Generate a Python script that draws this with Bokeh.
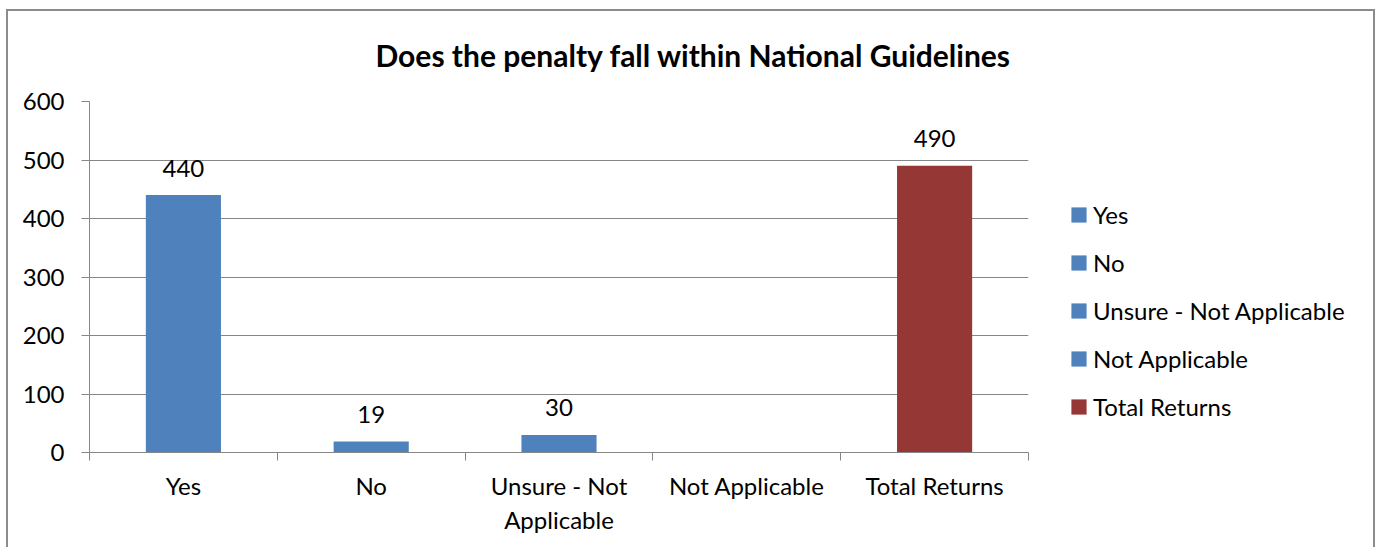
from bokeh.plotting import figure
from bokeh.models import (ColumnDataSource, Range1d, FixedTicker, Legend, LegendItem,
                          InlineStyleSheet)
from bokeh.core.properties import value
from bokeh.embed import file_html
from bokeh.resources import INLINE

title_text = "Does the penalty fall within National Guidelines"
categories = ["Yes", "No", "Unsure - Not Applicable", "Not Applicable", "Total Returns"]
axis_labels = ["Yes", "No", "Unsure - Not\nApplicable", "Not Applicable", "Total Returns"]
values = [440, 19, 30, 0, 490]
colors = ["#4F81BD", "#4F81BD", "#4F81BD", "#4F81BD", "#953735"]
y_ticks = [0, 100, 200, 300, 400, 500, 600]

FONT = "Lato"
FS = "24px"

xs = [i + 0.5 for i in range(len(categories))]
src = ColumnDataSource(dict(x=xs, top=values, color=colors, cat=categories))

p = figure(frame_width=939, frame_height=351,
           x_range=Range1d(0, len(categories)), y_range=Range1d(0, 600),
           output_backend="svg", toolbar_location=None,
           min_border_left=89, min_border_right=349, min_border_top=101,
           min_border_bottom=93)
p.outline_line_color = None
p.background_fill_color = "white"
p.border_fill_color = "white"

bars = p.vbar(x="x", top="top", width=0.4, color="color", line_color=None, source=src)

lab_x = [x for x, v in zip(xs, values) if v > 0]
lab_v = [v for v in values if v > 0]
p.text(x=lab_x, y=lab_v, text=[str(v) for v in lab_v], text_align="center",
       text_baseline="middle", y_offset=-27, text_font=value(FONT),
       text_font_size=FS, text_color="black")

# axes
p.xgrid.visible = False
p.ygrid.ticker = FixedTicker(ticks=y_ticks)
p.ygrid.grid_line_color = "#868686"
p.ygrid.grid_line_width = 1

p.yaxis.ticker = FixedTicker(ticks=y_ticks)
p.yaxis.axis_line_color = "#868686"
p.yaxis.major_tick_line_color = "#868686"
p.yaxis.major_tick_out = 8
p.yaxis.major_tick_in = 0
p.yaxis.minor_tick_line_color = None
p.yaxis.major_label_standoff = 17
p.yaxis.major_label_text_font = FONT
p.yaxis.major_label_text_font_size = FS
p.yaxis.major_label_text_color = "black"

p.xaxis.ticker = FixedTicker(ticks=xs, minor_ticks=list(range(len(categories) + 1)))
p.xaxis.major_label_overrides = {x: l for x, l in zip(xs, axis_labels)}
p.xaxis.axis_line_color = "#868686"
p.xaxis.major_tick_line_color = None
p.xaxis.major_tick_out = 0
p.xaxis.major_tick_in = 0
p.xaxis.minor_tick_line_color = "#868686"
p.xaxis.minor_tick_out = 8
p.xaxis.minor_tick_in = 0
p.xaxis.major_label_standoff = 10
p.xaxis.major_label_text_font = FONT
p.xaxis.major_label_text_font_size = FS
p.xaxis.major_label_text_color = "black"

# title
p.title.text = title_text
p.title.text_font = FONT
p.title.text_font_style = "bold"
p.title.text_font_size = "30px"
p.title.text_color = "black"
p.title.align = "left"
p.title.offset = 286
p.title.standoff = 57

# legend
items = [LegendItem(label=c, renderers=[bars], index=i) for i, c in enumerate(categories)]
legend = Legend(items=items, location=(41, 31), padding=0, margin=0,
                glyph_width=19, glyph_height=19, label_height=24, spacing=19,
                label_standoff=5, label_text_font=FONT, label_text_font_size=FS,
                label_text_color="black", border_line_color=None,
                background_fill_alpha=0)
p.add_layout(legend, "right")

# outer chart border
p.stylesheets = [InlineStyleSheet(css="""
:host {
  overflow: visible !important;
  min-width: 1377px;
}
:host::after {
  content: '';
  position: absolute;
  box-sizing: border-box;
  left: 6px; top: 9px; width: 1369px; height: 560px;
  border: 2px solid #8c8c8c;
  pointer-events: none;
  z-index: 10;
}
""")]

open("out.html", "w").write(file_html(p, INLINE))
